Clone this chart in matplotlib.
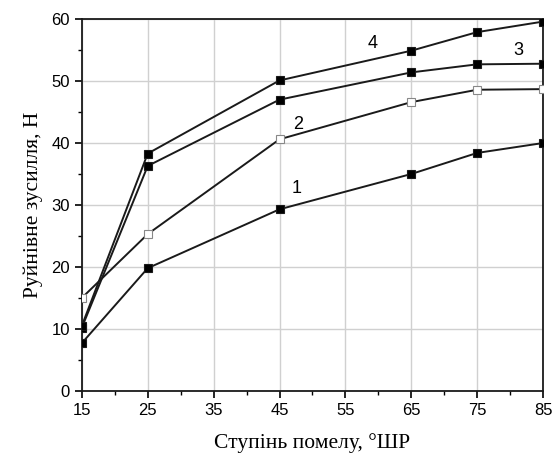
import matplotlib
matplotlib.use("Agg")
import matplotlib.pyplot as plt
from matplotlib.ticker import MultipleLocator

# grinding degree, °ШР
x = [15, 25, 45, 65, 75, 85]
s1 = [7.7, 19.8, 29.3, 35.0, 38.4, 40.0]
s2 = [15.0, 25.3, 40.6, 46.6, 48.6, 48.7]
s3 = [10.2, 36.3, 47.0, 51.4, 52.7, 52.8]
s4 = [10.5, 38.3, 50.1, 54.9, 57.9, 59.6]
curve_labels = ["1", "2", "3", "4"]
label_pos = [(47.6, 32.6), (47.8, 43.0), (81.2, 55.0), (59.2, 56.0)]

fig = plt.figure(figsize=(5.53, 4.55), dpi=100)
ax = fig.add_axes([0.148, 0.141, 0.834, 0.817])

ax.grid(True, which="major", color="#d0d0d0", lw=1.0, zorder=0)
for ys, face in [(s1, "black"), (s2, "white"), (s3, "black"), (s4, "black")]:
    ax.plot(x, ys, color="#1a1a1a", lw=1.4, marker="s", ms=5.2,
            mfc=face, mec="#1a1a1a" if face == "black" else "#888888",
            mew=0.8, zorder=3)

for t, (px, py) in zip(curve_labels, label_pos):
    ax.text(px, py, t, fontsize=13, family="Liberation Sans", ha="center", va="center")

ax.set_xlim(15, 85)
ax.set_ylim(0, 60)
ax.xaxis.set_major_locator(MultipleLocator(10, offset=5))
ax.xaxis.set_minor_locator(MultipleLocator(10))
ax.yaxis.set_major_locator(MultipleLocator(10))
ax.yaxis.set_minor_locator(MultipleLocator(5))
ax.tick_params(which="major", direction="out", length=5, width=1.2, labelsize=12)
ax.tick_params(which="minor", direction="out", length=3, width=1.0)
for lab in ax.get_xticklabels() + ax.get_yticklabels():
    lab.set_family("Liberation Sans")
for sp in ax.spines.values():
    sp.set_linewidth(1.3)
    sp.set_color("#1a1a1a")

ax.set_xlabel("Ступінь помелу, °ШР", family="Liberation Serif", fontsize=15.5, labelpad=11)
ax.set_ylabel("Руйнівне зусилля, Н", family="Liberation Serif", fontsize=15.5, labelpad=6)

fig.savefig("out.png", dpi=100)
